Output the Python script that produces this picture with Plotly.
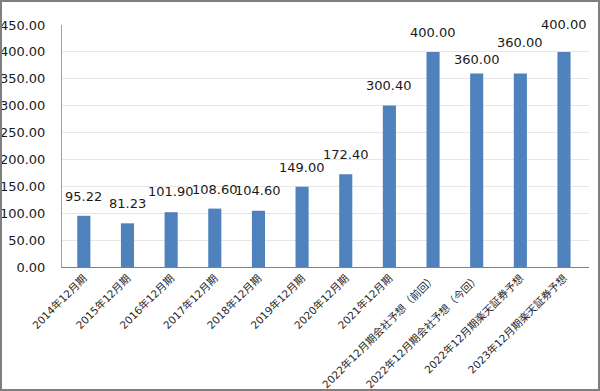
import plotly.graph_objects as go

categories = [
    "2014年12月期", "2015年12月期", "2016年12月期", "2017年12月期",
    "2018年12月期", "2019年12月期", "2020年12月期", "2021年12月期",
    "2022年12月期会社予想（前回）", "2022年12月期会社予想（今回）",
    "2022年12月期楽天証券予想", "2023年12月期楽天証券予想",
]
values = [95.22, 81.23, 101.90, 108.60, 104.60, 149.00, 172.40, 300.40,
          400.00, 360.00, 360.00, 400.00]
y_ticks = [0, 50, 100, 150, 200, 250, 300, 350, 400, 450]

# label offsets above bar top (pixels) - style only
label_shift = [10, 10, 11, 10, 11, 10, 10, 10, 10, 4, 21, 18]

W, H = 600, 391
ml, mr, mt, mb = 62, 11, 25, 124
pw = W - ml - mr
ph = H - mt - mb

fig = go.Figure()
fig.add_trace(go.Bar(
    x=categories, y=values, width=0.3,
    marker=dict(color="#4f81bd", line=dict(width=0)),
    hoverinfo="skip",
))

for c, v, s in zip(categories, values, label_shift):
    fig.add_annotation(x=c, y=v, text=f"{v:.2f}", showarrow=False,
                       yanchor="bottom", yshift=s,
                       font=dict(family="DejaVu Sans", size=13, color="#1a1a1a"))

# outer frame
fig.add_shape(type="rect", xref="paper", yref="paper",
              x0=(-ml + 1) / pw, x1=(W - ml - 1) / pw,
              y0=(-mb + 1) / ph, y1=1 + (mt - 1) / ph,
              line=dict(color="#7f7f7f", width=2), fillcolor="rgba(0,0,0,0)",
              layer="above")

fig.update_layout(
    width=W, height=H,
    margin=dict(l=ml, r=mr, t=mt, b=mb, autoexpand=False),
    paper_bgcolor="white", plot_bgcolor="white",
    showlegend=False,
    font=dict(family="DejaVu Sans, Noto Sans CJK JP", color="#1a1a1a"),
    bargap=0.7,
)
fig.update_xaxes(
    type="category", tickangle=-45, automargin=False,
    tickfont=dict(family="DejaVu Sans, Noto Sans CJK JP", size=10.5, color="#262626"),
    showline=True, linecolor="#808080", linewidth=1,
    ticks="", showgrid=False,
)
fig.update_yaxes(
    range=[0, 450], tickvals=y_ticks, tickformat=".2f", automargin=False,
    tickfont=dict(family="DejaVu Sans", size=13, color="#1a1a1a"),
    showline=True, linecolor="#a0a0a0", linewidth=1,
    showgrid=True, gridcolor="#e6e6e6", gridwidth=1,
    ticks="outside", ticklen=13, tickcolor="rgba(0,0,0,0)",
    zeroline=False,
)

fig.write_html(
    "out.html",
    config={"displayModeBar": False, "responsive": False},
    post_script="document.body.style.margin='0';document.body.style.padding='0';document.body.style.overflow='hidden';",
)
